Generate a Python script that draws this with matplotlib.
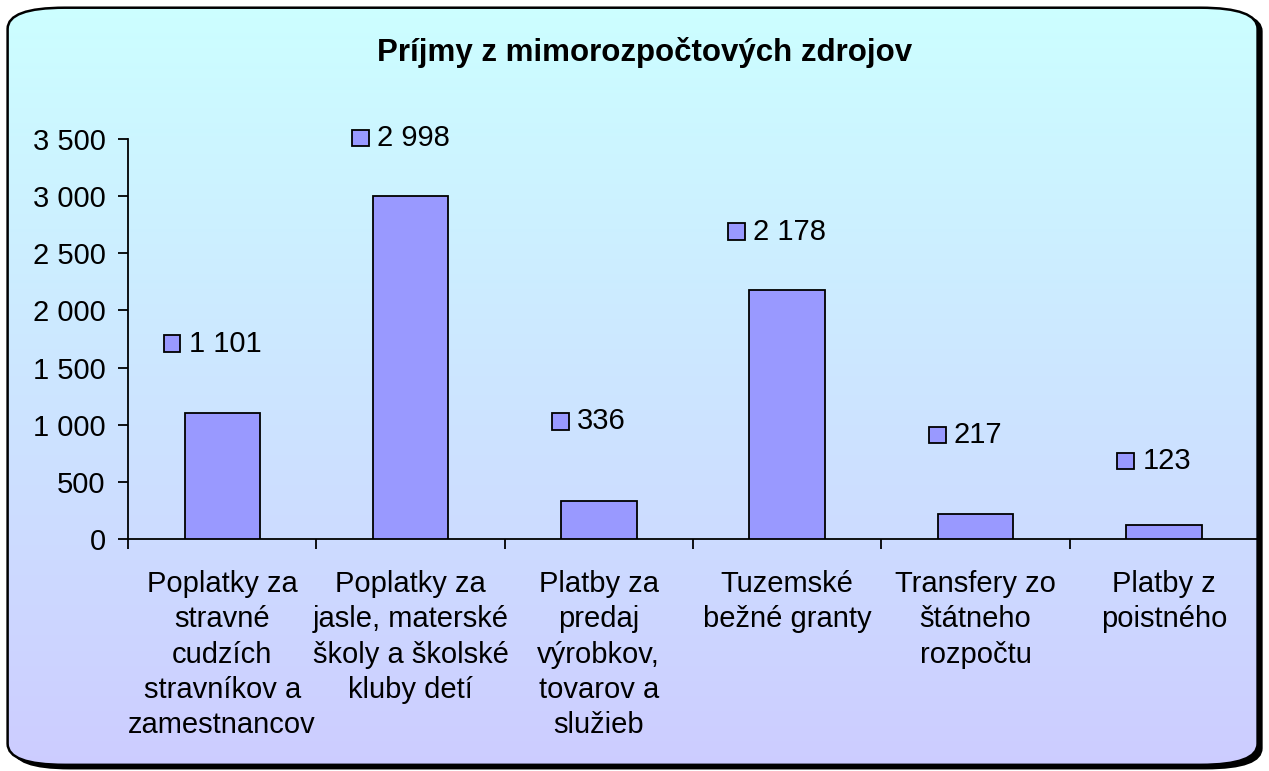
import numpy as np
import matplotlib
matplotlib.use("Agg")
matplotlib.rcParams['font.family'] = ['Liberation Sans', 'DejaVu Sans']
import matplotlib.pyplot as plt
from matplotlib.patches import FancyBboxPatch, Rectangle
from matplotlib.offsetbox import AnnotationBbox, DrawingArea, TextArea, HPacker

categories = [
    "Poplatky za\nstravné\ncudzích\nstravníkov a\nzamestnancov",
    "Poplatky za\njasle, materské\nškoly a školské\nkluby detí",
    "Platby za\npredaj\nvýrobkov,\ntovarov a\nslužieb",
    "Tuzemské\nbežné granty",
    "Transfery zo\nštátneho\nrozpočtu",
    "Platby z\npoistného",
]
values = [1101, 2998, 336, 2178, 217, 123]
label_lift = [50, 42, 57, 42, 57, 46]   # points above bar top, as placed in the original
title = "Príjmy z mimorozpočtových zdrojov"

BAR = "#9999FF"
FS = 21

def fmt(v):
    return f"{v:,}".replace(",", " ")

fig = plt.figure(figsize=(12.69, 7.71), dpi=100)

# rounded gradient background with a small shadow
bg = fig.add_axes([0, 0, 1, 1], zorder=-1)
bg.set_axis_off()
shadow = FancyBboxPatch((0.010, 0.002), 0.985, 0.985, boxstyle="round,pad=0,rounding_size=0.045",
                        transform=fig.transFigure, facecolor="black", edgecolor="none",
                        mutation_aspect=771 / 1269, zorder=0)
frame = FancyBboxPatch((0.006, 0.008), 0.985, 0.982, boxstyle="round,pad=0,rounding_size=0.045",
                       transform=fig.transFigure, facecolor="none", edgecolor="black",
                       linewidth=1.8, mutation_aspect=771 / 1269, zorder=2)
bg.add_patch(shadow)
grad = np.linspace(0, 1, 256)[:, None]
top = np.array([0xCC, 0xFF, 0xFF]) / 255
bot = np.array([0xCC, 0xCC, 0xFF]) / 255
img = top[None, None, :] * (1 - grad[..., None]) + bot[None, None, :] * grad[..., None]
im = bg.imshow(img, extent=[0, 1, 0, 1], aspect="auto", transform=fig.transFigure, zorder=1)
im.set_clip_path(frame)
bg.add_patch(frame)

ax = fig.add_axes([128 / 1269, 232 / 771, 1130 / 1269, 400 / 771])
ax.set_facecolor("none")
x = np.arange(len(values))
ax.bar(x, values, width=0.4, color=BAR, edgecolor="black", linewidth=1.3, zorder=3)

ax.set_xlim(-0.5, len(values) - 0.5)
ax.set_ylim(0, 3500)
ax.set_yticks(np.arange(0, 3501, 500))
ax.set_yticklabels([fmt(v) for v in range(0, 3501, 500)], fontsize=FS)
ax.set_xticks(np.arange(-0.5, len(values)), labels=[])
ax.set_xticks(x, labels=categories, minor=True)
ax.tick_params(axis="x", which="major", length=7, width=1.3, direction="out")
ax.tick_params(axis="x", which="minor", length=0, pad=22, labelsize=FS)
ax.tick_params(axis="y", length=7, width=1.3, pad=9)
for lab in ax.get_xticklabels(minor=True):
    lab.set_linespacing(1.34)
    lab.set_ha("center")
for s in ["top", "right"]:
    ax.spines[s].set_visible(False)
for s in ["left", "bottom"]:
    ax.spines[s].set_linewidth(1.3)

# data labels with a legend key
for xi, v, lift in zip(x, values, label_lift):
    da = DrawingArea(12, 12, 0, 0)
    da.add_artist(Rectangle((0, 0), 12, 12, facecolor=BAR, edgecolor="black", linewidth=1.3))
    ta = TextArea(fmt(v), textprops=dict(fontsize=FS))
    box = HPacker(children=[da, ta], align="center", pad=0, sep=6)
    ab = AnnotationBbox(box, (xi, v), xybox=(-7, lift), xycoords="data",
                        boxcoords="offset points", frameon=False, box_alignment=(0.5, 0.5))
    ax.add_artist(ab)

fig.text(0.508, 0.932, title, ha="center", va="center", fontsize=22.5, fontweight="bold")

fig.savefig("out.png", dpi=100)
